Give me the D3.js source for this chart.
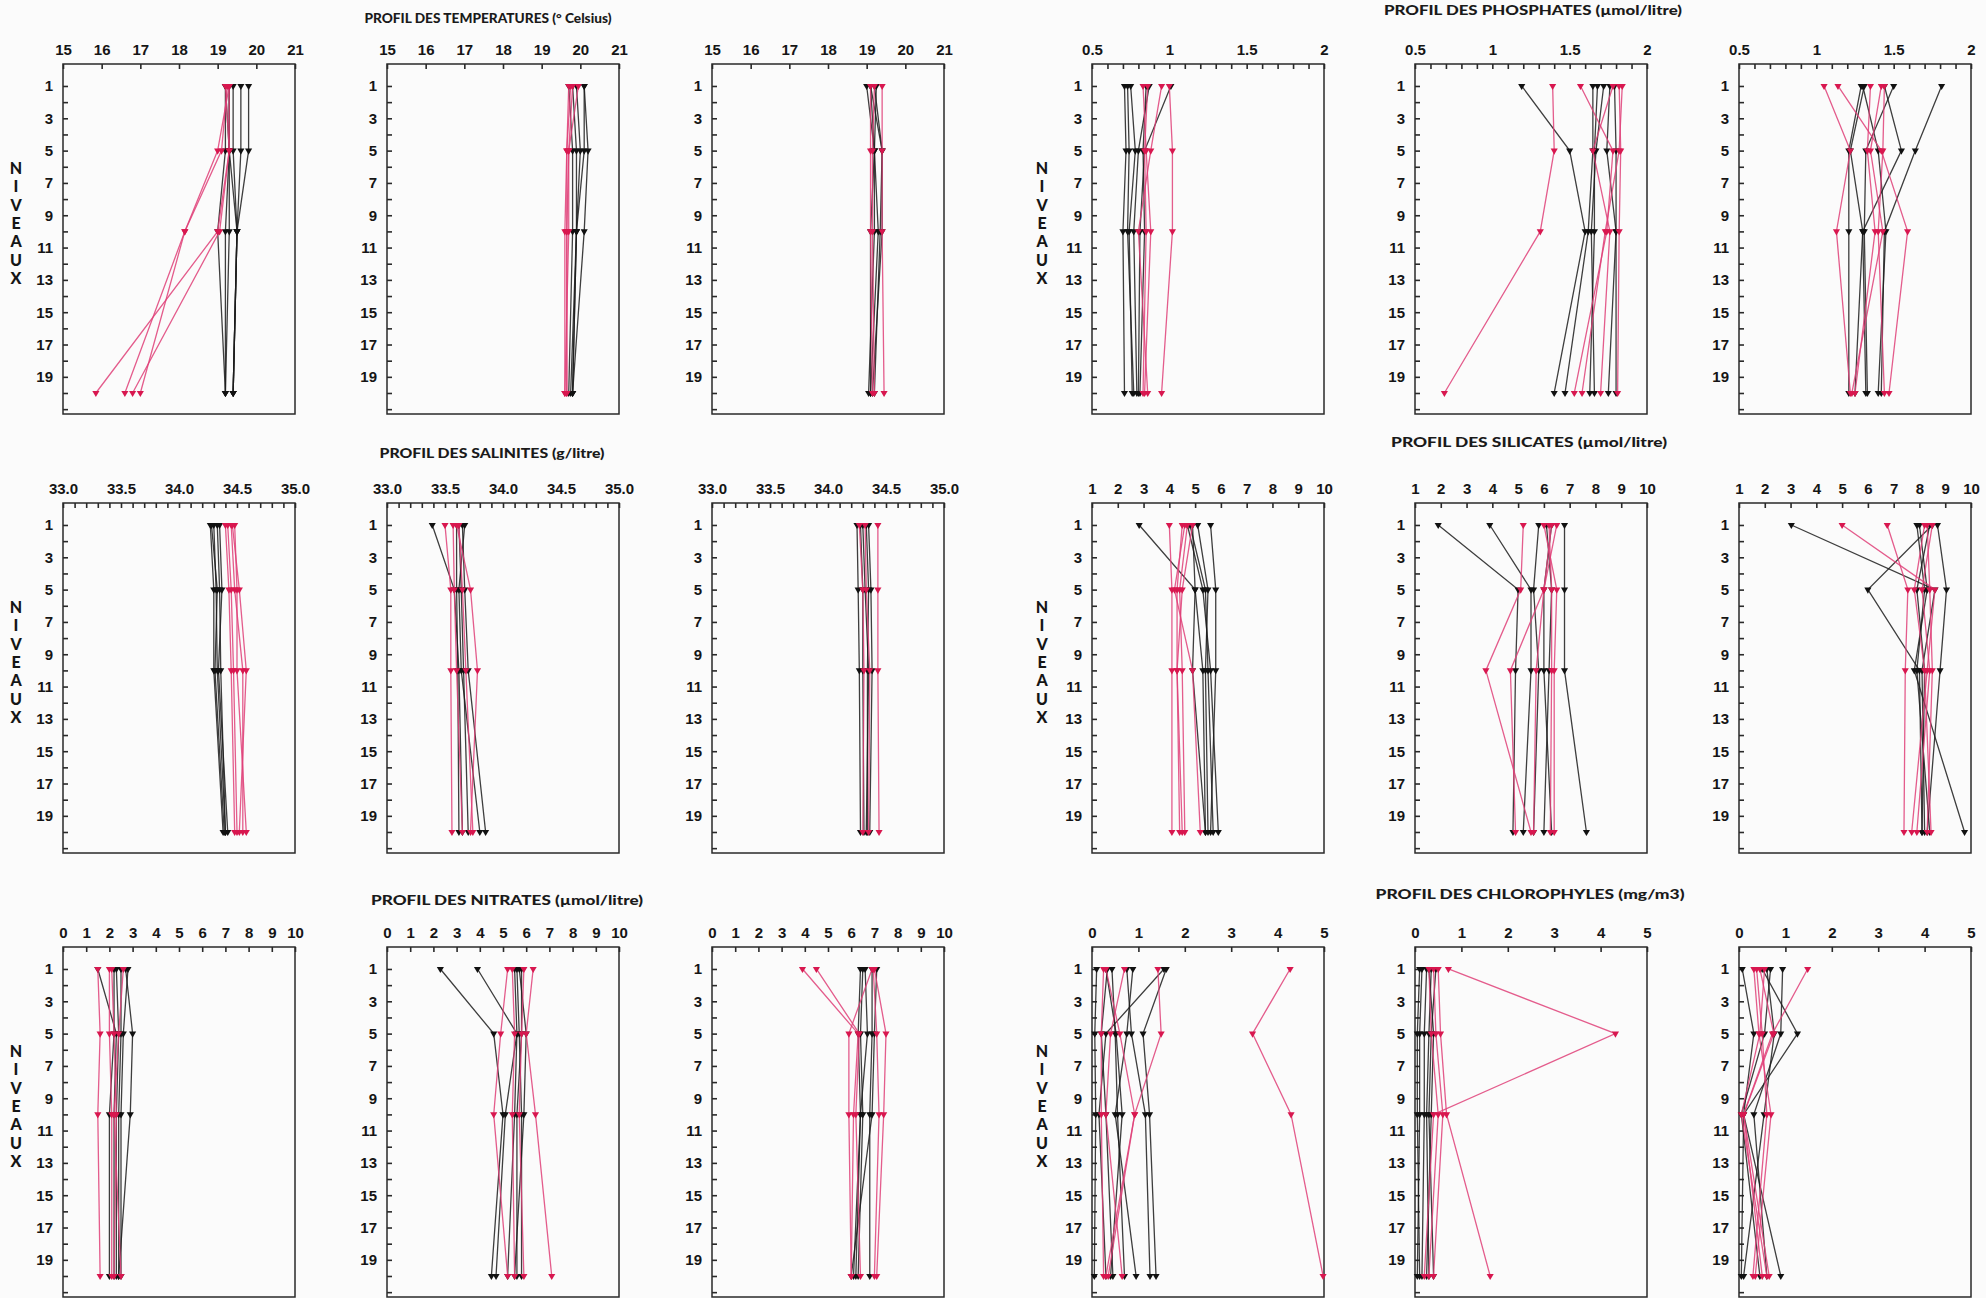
<!DOCTYPE html>
<html>
<head>
<meta charset="utf-8">
<script src="https://cdn.jsdelivr.net/npm/d3@7"></script>
<style>
  body { margin: 0; background: #fbfbfb; }
  svg { display: block; font-family: Lato, "Open Sans", sans-serif; }
</style>
</head>
<body>
<div id="chart"></div>
<script>
// sampled depth levels for every profile
const levels = [1, 5, 10, 20];
const levelTicks = d3.range(1, 22);

// axis ticks / labels
const tempTicks = [15, 16, 17, 18, 19, 20, 21];
const tempLabels = ["15", "16", "17", "18", "19", "20", "21"];
const salTicks = d3.range(330, 351).map(d => d / 10);
const salLabels = ["33.0", "33.5", "34.0", "34.5", "35.0"];
const phosTicks = d3.range(5, 21).map(d => d / 10);
const phosLabels = ["0.5", "1", "1.5", "2"];
const silTicks = [1, 2, 3, 4, 5, 6, 7, 8, 9, 10];
const silLabels = ["1", "2", "3", "4", "5", "6", "7", "8", "9", "10"];
const nitTicks = [0, 1, 2, 3, 4, 5, 6, 7, 8, 9, 10];
const nitLabels = ["0", "1", "2", "3", "4", "5", "6", "7", "8", "9", "10"];
const chlTicks = [0, 1, 2, 3, 4, 5];
const chlLabels = ["0", "1", "2", "3", "4", "5"];

// profiles: values at levels 1, 5, 10, 20
const temp1Black = [[19.2, 19.2, 19.0, 19.2], [19.3, 19.3, 19.3, 19.2], [19.4, 19.4, 19.5, 19.4],
  [19.3, 19.3, 19.5, 19.4], [19.6, 19.6, 19.5, 19.4], [19.8, 19.8, 19.5, 19.4], [19.2, 19.3, 19.2, 19.2]];
const temp1Red = [[19.3, 19.0, 18.15, 16.6], [19.25, 19.1, 18.15, 17.0], [19.3, 19.3, 19.0, 15.85], [19.2, 19.3, 19.05, 16.8]];
const temp2Black = [[20.1, 20.1, 19.9, 19.8], [20.1, 20.2, 20.1, 19.8], [19.8, 19.9, 19.9, 19.75],
  [19.7, 19.8, 19.8, 19.7], [19.9, 20.0, 19.9, 19.8]];
const temp2Red = [[19.7, 19.65, 19.6, 19.6], [19.8, 19.7, 19.65, 19.65], [19.95, 19.7, 19.7, 19.6], [19.75, 19.65, 19.65, 19.65]];
const temp3Black = [[19.0, 19.2, 19.3, 19.1], [19.1, 19.4, 19.4, 19.15], [19.2, 19.4, 19.35, 19.2],
  [19.25, 19.2, 19.1, 19.1], [19.1, 19.2, 19.2, 19.05]];
const temp3Red = [[19.4, 19.4, 19.4, 19.45], [19.1, 19.1, 19.1, 19.15], [19.2, 19.15, 19.15, 19.2]];

const sal1Black = [[34.27, 34.30, 34.30, 34.38], [34.30, 34.32, 34.33, 34.40], [34.33, 34.35, 34.36, 34.40],
  [34.35, 34.37, 34.34, 34.42], [34.28, 34.33, 34.31, 34.39]];
const sal1Red = [[34.42, 34.45, 34.47, 34.50], [34.45, 34.48, 34.55, 34.55], [34.48, 34.50, 34.50, 34.58],
  [34.40, 34.43, 34.45, 34.48], [34.46, 34.52, 34.58, 34.52]];
const sal2Black = [[33.39, 33.58, 33.62, 33.65], [33.62, 33.64, 33.66, 33.70], [33.65, 33.67, 33.70, 33.85],
  [33.67, 33.62, 33.64, 33.80], [33.60, 33.60, 33.61, 33.62]];
const sal2Red = [[33.50, 33.55, 33.55, 33.56], [33.57, 33.58, 33.60, 33.65], [33.60, 33.72, 33.78, 33.72], [33.62, 33.65, 33.68, 33.74]];
const sal3Black = [[34.25, 34.26, 34.27, 34.28], [34.30, 34.32, 34.35, 34.33], [34.35, 34.37, 34.38, 34.36],
  [34.28, 34.30, 34.30, 34.31], [34.33, 34.35, 34.34, 34.34]];
const sal3Red = [[34.43, 34.43, 34.43, 34.44], [34.27, 34.30, 34.31, 34.30], [34.32, 34.33, 34.36, 34.35]];

const nit1Black = [[1.5, 2.3, 2.2, 2.2], [2.2, 2.2, 2.0, 2.0], [2.5, 2.5, 2.4, 2.4], [2.7, 3.0, 2.9, 2.4],
  [2.8, 2.6, 2.5, 2.5], [2.3, 2.4, 2.3, 2.3]];
const nit1Red = [[1.5, 1.6, 1.5, 1.6], [2.0, 2.0, 2.1, 2.1], [2.1, 2.2, 2.3, 2.2], [2.6, 2.4, 2.2, 2.5]];
const nit2Black = [[2.3, 4.6, 5.0, 4.5], [3.9, 5.6, 5.1, 4.7], [5.6, 5.7, 5.8, 5.8], [5.7, 6.0, 5.9, 5.5],
  [5.5, 5.6, 5.5, 5.2], [5.8, 5.8, 5.6, 5.6]];
const nit2Red = [[5.2, 4.9, 4.6, 5.2], [6.3, 6.0, 6.4, 7.1], [5.4, 5.5, 5.4, 5.5], [5.9, 5.8, 5.7, 5.9]];
const nit3Black = [[6.4, 6.3, 6.4, 6.1], [6.5, 6.4, 6.5, 6.3], [6.9, 6.9, 6.8, 6.8], [7.1, 7.0, 6.9, 6.0], [6.6, 6.7, 6.4, 6.2]];
const nit3Red = [[3.9, 6.3, 6.1, 6.0], [4.5, 6.35, 6.2, 6.4], [6.9, 5.9, 5.9, 6.0], [7.0, 7.5, 7.4, 7.1], [6.95, 7.1, 7.2, 7.0]];

const phos1Black = [[0.71, 0.72, 0.70, 0.71], [0.75, 0.78, 0.74, 0.76], [0.87, 0.80, 0.77, 0.79],
  [1.01, 0.84, 0.81, 0.80], [0.73, 0.74, 0.73, 0.77], [0.85, 0.83, 0.84, 0.81]];
const phos1Red = [[0.83, 0.85, 0.88, 0.84], [0.95, 0.88, 0.80, 0.86], [1.00, 1.02, 1.02, 0.95], [0.86, 0.84, 0.85, 0.83]];
const phos2Black = [[1.19, 1.50, 1.60, 1.40], [1.65, 1.65, 1.62, 1.47], [1.68, 1.66, 1.66, 1.63],
  [1.76, 1.74, 1.80, 1.75], [1.79, 1.80, 1.80, 1.80], [1.72, 1.67, 1.64, 1.66]];
const phos2Red = [[1.39, 1.40, 1.31, 0.69], [1.57, 1.78, 1.74, 1.53], [1.84, 1.82, 1.73, 1.58],
  [1.78, 1.65, 1.76, 1.70], [1.82, 1.83, 1.82, 1.81]];
const phos3Black = [[1.29, 1.21, 1.21, 1.21], [1.81, 1.64, 1.44, 1.42], [1.44, 1.55, 1.30, 1.32],
  [1.50, 1.32, 1.31, 1.33], [1.30, 1.40, 1.45, 1.40], [1.31, 1.22, 1.30, 1.25]];
const phos3Red = [[1.05, 1.22, 1.13, 1.22], [1.14, 1.42, 1.59, 1.47], [1.35, 1.33, 1.38, 1.25],
  [1.44, 1.43, 1.40, 1.44], [1.42, 1.35, 1.43, 1.23]];

const sil1Black = [[2.83, 5.0, 5.3, 5.4], [4.7, 5.3, 5.6, 5.9], [5.6, 5.8, 5.8, 5.6], [4.9, 5.0, 4.9, 5.4],
  [5.1, 5.5, 5.4, 5.5], [4.8, 5.4, 5.5, 5.7]];
const sil1Red = [[4.0, 4.1, 4.1, 4.1], [4.5, 4.3, 4.3, 4.4], [4.7, 4.4, 4.5, 4.6], [4.6, 4.2, 4.9, 5.2], [4.9, 4.5, 4.3, 4.5]];
const sil2Black = [[1.9, 5.0, 4.9, 4.8], [3.9, 5.5, 5.5, 5.2], [5.8, 5.6, 5.8, 5.6], [6.1, 6.3, 6.2, 6.0],
  [6.8, 6.8, 6.8, 7.65], [6.3, 6.0, 6.0, 6.3]];
const sil2Red = [[5.2, 5.1, 3.75, 5.5], [6.5, 6.0, 4.7, 4.9], [6.2, 6.3, 6.3, 6.25], [6.0, 6.5, 6.4, 6.4], [6.3, 6.0, 5.7, 5.6]];
const sil3Black = [[3.03, 8.6, 8.1, 8.2], [8.5, 6.0, 8.0, 8.1], [8.0, 8.3, 7.8, 9.75], [8.7, 9.05, 8.8, 8.3],
  [8.4, 7.9, 8.2, 8.1], [7.9, 8.2, 7.9, 8.4]];
const sil3Red = [[5.0, 8.6, 8.3, 7.7], [6.75, 7.55, 7.45, 7.4], [8.3, 8.4, 8.5, 8.3], [8.5, 8.1, 8.4, 7.9], [8.2, 7.8, 8.2, 8.45]];

const chl1Black = [[0.1, 0.06, 0.08, 0.05], [0.33, 0.2, 0.3, 0.45], [0.43, 0.5, 0.55, 0.7], [0.75, 0.85, 1.15, 1.25],
  [0.88, 0.75, 0.5, 0.95], [1.55, 0.3, 0.15, 0.3], [1.6, 1.1, 1.24, 1.38], [0.3, 0.52, 0.65, 0.4]];
const chl1Red = [[0.25, 0.2, 0.2, 0.25], [1.42, 1.49, 0.92, 0.3], [4.27, 3.46, 4.29, 4.98], [0.7, 0.4, 0.3, 0.65], [0.3, 0.6, 0.92, 0.35]];
const chl2Black = [[0.15, 0.1, 0.1, 0.05], [0.25, 0.2, 0.2, 0.15], [0.35, 0.3, 0.25, 0.3], [0.45, 0.35, 0.3, 0.4],
  [0.1, 0.05, 0.05, 0.1], [0.3, 0.4, 0.35, 0.25]];
const chl2Red = [[0.72, 4.32, 0.4, 0.2], [0.5, 0.55, 0.68, 1.62], [0.4, 0.45, 0.6, 0.4], [0.3, 0.35, 0.5, 0.3]];
const chl3Black = [[0.07, 0.32, 0.1, 0.9], [0.5, 1.26, 0.1, 0.05], [0.94, 0.9, 0.32, 0.6], [0.6, 0.76, 0.54, 0.1], [0.68, 0.55, 0.05, 0.45]];
const chl3Red = [[0.32, 0.43, 0.69, 0.35], [1.48, 0.72, 0.1, 0.5], [0.45, 0.75, 0.1, 0.65], [0.38, 0.5, 0.6, 0.3], [0.55, 0.45, 0.05, 0.6]];

const titles = [
  {text: "PROFIL DES TEMPERATURES (° Celsius)", x: 488, y: 18, w: 247},
  {text: "PROFIL DES PHOSPHATES (µmol/litre)", x: 1533, y: 10, w: 298},
  {text: "PROFIL DES SALINITES (g/litre)", x: 492, y: 453, w: 225},
  {text: "PROFIL DES SILICATES (µmol/litre)", x: 1529, y: 442, w: 276},
  {text: "PROFIL DES NITRATES (µmol/litre)", x: 507, y: 900, w: 272},
  {text: "PROFIL DES CHLOROPHYLES (mg/m3)", x: 1530, y: 894, w: 309}
];

const panels = [
  {row: 0, col: 0, domain: [15, 21], ticks: tempTicks, labels: tempLabels, black: temp1Black, red: temp1Red},
  {row: 0, col: 1, domain: [15, 21], ticks: tempTicks, labels: tempLabels, black: temp2Black, red: temp2Red},
  {row: 0, col: 2, domain: [15, 21], ticks: tempTicks, labels: tempLabels, black: temp3Black, red: temp3Red},
  {row: 0, col: 3, domain: [0.5, 2], ticks: phosTicks, labels: phosLabels, black: phos1Black, red: phos1Red},
  {row: 0, col: 4, domain: [0.5, 2], ticks: phosTicks, labels: phosLabels, black: phos2Black, red: phos2Red},
  {row: 0, col: 5, domain: [0.5, 2], ticks: phosTicks, labels: phosLabels, black: phos3Black, red: phos3Red},
  {row: 1, col: 0, domain: [33, 35], ticks: salTicks, labels: salLabels, black: sal1Black, red: sal1Red},
  {row: 1, col: 1, domain: [33, 35], ticks: salTicks, labels: salLabels, black: sal2Black, red: sal2Red},
  {row: 1, col: 2, domain: [33, 35], ticks: salTicks, labels: salLabels, black: sal3Black, red: sal3Red},
  {row: 1, col: 3, domain: [1, 10], ticks: silTicks, labels: silLabels, black: sil1Black, red: sil1Red},
  {row: 1, col: 4, domain: [1, 10], ticks: silTicks, labels: silLabels, black: sil2Black, red: sil2Red},
  {row: 1, col: 5, domain: [1, 10], ticks: silTicks, labels: silLabels, black: sil3Black, red: sil3Red},
  {row: 2, col: 0, domain: [0, 10], ticks: nitTicks, labels: nitLabels, black: nit1Black, red: nit1Red},
  {row: 2, col: 1, domain: [0, 10], ticks: nitTicks, labels: nitLabels, black: nit2Black, red: nit2Red},
  {row: 2, col: 2, domain: [0, 10], ticks: nitTicks, labels: nitLabels, black: nit3Black, red: nit3Red},
  {row: 2, col: 3, domain: [0, 5], ticks: chlTicks, labels: chlLabels, black: chl1Black, red: chl1Red},
  {row: 2, col: 4, domain: [0, 5], ticks: chlTicks, labels: chlLabels, black: chl2Black, red: chl2Red},
  {row: 2, col: 5, domain: [0, 5], ticks: chlTicks, labels: chlLabels, black: chl3Black, red: chl3Red}
];

const width = 1986, height = 1298;
const colX = [63, 387, 712, 1092, 1415, 1739];
const rowY = [64, 503, 947];
const W = 232, H = 350;

const svg = d3.select("#chart").append("svg")
    .attr("width", width)
    .attr("height", height);

svg.append("rect").attr("width", width).attr("height", height).attr("fill", "#fbfbfb");

// one y scale shared by every panel
const y = d3.scaleLinear().domain([-0.36, 21.3]).range([0, H]);

const tri = d3.symbol().type(d3.symbolTriangle).size(22);

panels.forEach(function(p) {
    const g = svg.append("g")
        .attr("transform", `translate(${colX[p.col]},${rowY[p.row]})`);

    const x = d3.scaleLinear().domain(p.domain).range([0, W]);

    const xAxis = d3.axisTop(x)
        .tickValues(p.ticks)
        .tickSizeInner(-5)
        .tickSizeOuter(0)
        .tickPadding(9)
        .tickFormat(v => {
            const l = p.labels.find(s => Math.abs(+s - v) < 1e-6);
            return l === undefined ? "" : l;
        });

    // every level gets a tick, odd levels up to 19 get a label
    const yAxis = d3.axisLeft(y)
        .tickValues(levelTicks)
        .tickSizeInner(-5)
        .tickSizeOuter(0)
        .tickPadding(10)
        .tickFormat(v => (v % 2 === 1 && v < 20) ? v : "");

    g.append("g").call(xAxis)
        .call(a => a.select(".domain").remove());
    g.append("g").call(yAxis)
        .call(a => a.select(".domain").remove());

    g.selectAll(".tick line").attr("stroke", "#2a2a2a").attr("stroke-width", 1.6);
    g.selectAll(".tick text")
        .attr("fill", "#151515")
        .style("font-size", "15px")
        .style("font-weight", "900");

    g.append("rect")
        .attr("width", W)
        .attr("height", H)
        .attr("fill", "none")
        .attr("stroke", "#2a2a2a")
        .attr("stroke-width", 1.5);

    const line = d3.line()
        .x(d => x(d))
        .y((d, i) => y(levels[i]));

    const series = [
        {rows: p.black, stroke: "#1c1c1c", mark: "#111"},
        {rows: p.red, stroke: "#df3f78", mark: "#d8174f"}
    ];

    series.forEach(function(s) {
        const sg = g.append("g");
        sg.selectAll("path.prof").data(s.rows)
            .join("path")
            .attr("class", "prof")
            .attr("d", line)
            .attr("fill", "none")
            .attr("stroke", s.stroke)
            .attr("stroke-opacity", 0.85)
            .attr("stroke-width", 1.3);

        const pts = s.rows.flatMap(r => r.map((v, i) => ({v: v, lv: levels[i]})));
        sg.selectAll("path.mk").data(pts)
            .join("path")
            .attr("class", "mk")
            .attr("d", tri)
            .attr("fill", s.mark)
            .attr("transform", d => `translate(${x(d.v)},${y(d.lv)}) rotate(180)`);
    });

    // vertical axis title on the first panel of each half
    if (p.col === 0 || p.col === 3) {
        const cx = p.col === 0 ? 16 : 1042;
        const letters = "NIVEAUX".split("");
        const cy = rowY[p.row] + y(9.5);
        svg.append("g").selectAll("text").data(letters)
            .join("text")
            .attr("x", cx)
            .attr("y", (d, i) => cy + (i - 3) * 18.3)
            .attr("dy", "0.35em")
            .attr("text-anchor", "middle")
            .attr("fill", "#151515")
            .style("font-size", "16px")
            .style("font-weight", "900")
            .text(d => d);
    }
});

svg.append("g").selectAll("text").data(titles)
    .join("text")
    .attr("x", d => d.x - d.w / 2)
    .attr("y", d => d.y)
    .attr("dy", "0.35em")
    .attr("textLength", d => d.w)
    .attr("lengthAdjust", "spacingAndGlyphs")
    .attr("fill", "#1a1a1a")
    .style("font-size", "14px")
    .style("font-weight", "900")
    .text(d => d.text);
</script>
</body>
</html>
